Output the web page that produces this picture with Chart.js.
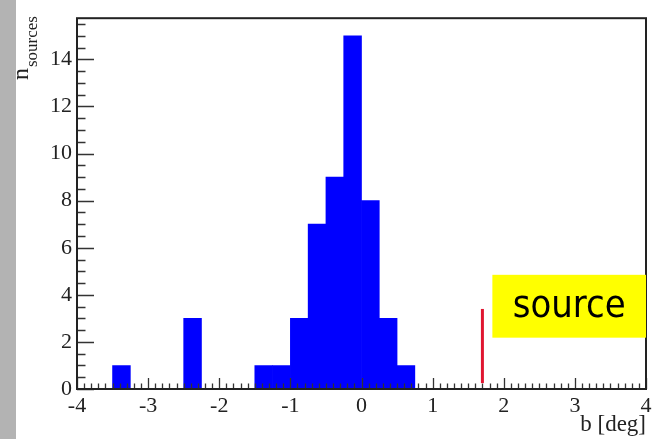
<!DOCTYPE html>
<html lang="en">
<head>
<meta charset="UTF-8">
<title>n_sources vs b</title>
<script src="https://cdn.jsdelivr.net/npm/chart.js"></script>
<style>
  html, body { margin: 0; padding: 0; background: #fff; }
  #wrap { position: relative; width: 656px; height: 439px; }
  #strip { position: absolute; left: 0; top: 0; width: 16px; height: 439px; background: #b3b3b3; }
  canvas { position: absolute; left: 0; top: 0; }
</style>
</head>
<body>
<div id="wrap">
  <div id="strip"></div>
  <canvas id="histChart" width="656" height="439"></canvas>
</div>
<script>
// histogram bins (0.25 deg wide), centres and counts
const binCenters = [-3.875, -3.625, -3.375, -3.125, -2.875, -2.625, -2.375, -2.125,
                    -1.875, -1.625, -1.375, -1.125, -0.875, -0.625, -0.375, -0.125,
                     0.125,  0.375,  0.625,  0.875,  1.125,  1.375,  1.625,  1.875,
                     2.125,  2.375,  2.625,  2.875,  3.125,  3.375,  3.625,  3.875];
const counts     = [0, 0, 1, 0, 0, 0, 3, 0,
                    0, 0, 1, 1, 3, 7, 9, 15,
                    8, 3, 1, 0, 0, 0, 0, 0,
                    0, 0, 0, 0, 0, 0, 0, 0];
const xTicks = [-4, -3, -2, -1, 0, 1, 2, 3, 4];
const yTicks = [0, 2, 4, 6, 8, 10, 12, 14];

// source marker and label box (data units)
const sourceB = 1.7;
const sourceLine = [0.25, 3.4];
const labelBoxX = [1.84, 4];
const labelBoxY = [2.18, 4.85];
const labelText = 'source';

const serif = '"Liberation Serif", "Times New Roman", serif';

const decorPlugin = {
  id: 'decor',
  afterDraw(chart) {
    const ctx = chart.ctx;
    const x = chart.scales.x, y = chart.scales.y;
    const a = chart.chartArea;

    // inner ticks
    ctx.save();
    ctx.strokeStyle = '#333';
    ctx.lineWidth = 1.3;
    ctx.beginPath();
    for (let i = 0; i <= 80; i++) {
      const v = -4 + i * 0.1;
      const px = Math.round(x.getPixelForValue(v)) + 0.5;
      const len = (i % 10 === 0) ? 11 : 5.5;
      ctx.moveTo(px, a.bottom);
      ctx.lineTo(px, a.bottom - len);
    }
    for (let i = 0; i <= 31; i++) {
      const v = i * 0.5;
      const py = Math.round(y.getPixelForValue(v)) + 0.5;
      const len = (i % 4 === 0) ? 17 : 8.5;
      ctx.moveTo(a.left, py);
      ctx.lineTo(a.left + len, py);
    }
    ctx.stroke();

    // frame
    ctx.strokeStyle = '#222';
    ctx.lineWidth = 2;
    ctx.strokeRect(a.left, a.top, a.right - a.left, a.bottom - a.top);

    // source marker
    ctx.strokeStyle = '#e01530';
    ctx.lineWidth = 3;
    ctx.beginPath();
    const sx = x.getPixelForValue(sourceB);
    ctx.moveTo(sx, y.getPixelForValue(sourceLine[0]));
    ctx.lineTo(sx, y.getPixelForValue(sourceLine[1]));
    ctx.stroke();

    // label box
    const bx0 = x.getPixelForValue(labelBoxX[0]), bx1 = x.getPixelForValue(labelBoxX[1]);
    const by0 = y.getPixelForValue(labelBoxY[1]), by1 = y.getPixelForValue(labelBoxY[0]);
    ctx.fillStyle = '#ffff00';
    ctx.fillRect(bx0, by0, bx1 - bx0, by1 - by0);
    ctx.fillStyle = '#000';
    ctx.font = '38px "Comic Sans MS", "DejaVu Sans", sans-serif';
    ctx.textAlign = 'center';
    ctx.textBaseline = 'middle';
    const tw = ctx.measureText(labelText).width;
    ctx.translate((bx0 + bx1) / 2, (by0 + by1) / 2 + 1);
    ctx.scale(113 / tw, 1);
    ctx.fillText(labelText, 0, 0);
    ctx.restore();

    // y-axis title n_sources
    ctx.save();
    ctx.fillStyle = '#222';
    ctx.translate(28, 80);
    ctx.rotate(-Math.PI / 2);
    ctx.textAlign = 'left';
    ctx.textBaseline = 'alphabetic';
    ctx.font = '24px ' + serif;
    ctx.fillText('n', 0, 0);
    const nw = ctx.measureText('n').width;
    ctx.font = '17px ' + serif;
    ctx.fillText('sources', nw + 1, 9);
    ctx.restore();
  }
};

new Chart(document.getElementById('histChart'), {
  type: 'bar',
  data: {
    datasets: [{
      data: binCenters.map((c, i) => ({ x: c, y: counts[i] })),
      backgroundColor: '#0000ff',
      borderWidth: 0,
      barPercentage: 1,
      categoryPercentage: 1
    }]
  },
  options: {
    responsive: false,
    animation: false,
    layout: { padding: { left: 0, top: 11, right: 10, bottom: 0 } },
    plugins: { legend: { display: false }, tooltip: { enabled: false } },
    scales: {
      x: {
        type: 'linear',
        min: -4,
        max: 4,
        offset: false,
        afterBuildTicks: s => { s.ticks = xTicks.map(v => ({ value: v })); },
        afterFit: s => { s.height = 50; },
        grid: { display: false, drawTicks: false, offset: false },
        border: { display: false },
        ticks: {
          padding: 4,
          maxRotation: 0,
          color: '#222',
          font: { family: serif, size: 22 }
        },
        title: {
          display: true,
          text: 'b [deg]',
          align: 'end',
          color: '#222',
          padding: 0,
          font: { family: serif, size: 23 }
        }
      },
      y: {
        min: 0,
        max: 15.75,
        afterBuildTicks: s => { s.ticks = yTicks.map(v => ({ value: v })); },
        afterFit: s => { s.width = 77; },
        grid: { display: false, drawTicks: false },
        border: { display: false },
        ticks: {
          padding: 5,
          color: '#222',
          font: { family: serif, size: 22 }
        }
      }
    }
  },
  plugins: [decorPlugin]
});
</script>
</body>
</html>
